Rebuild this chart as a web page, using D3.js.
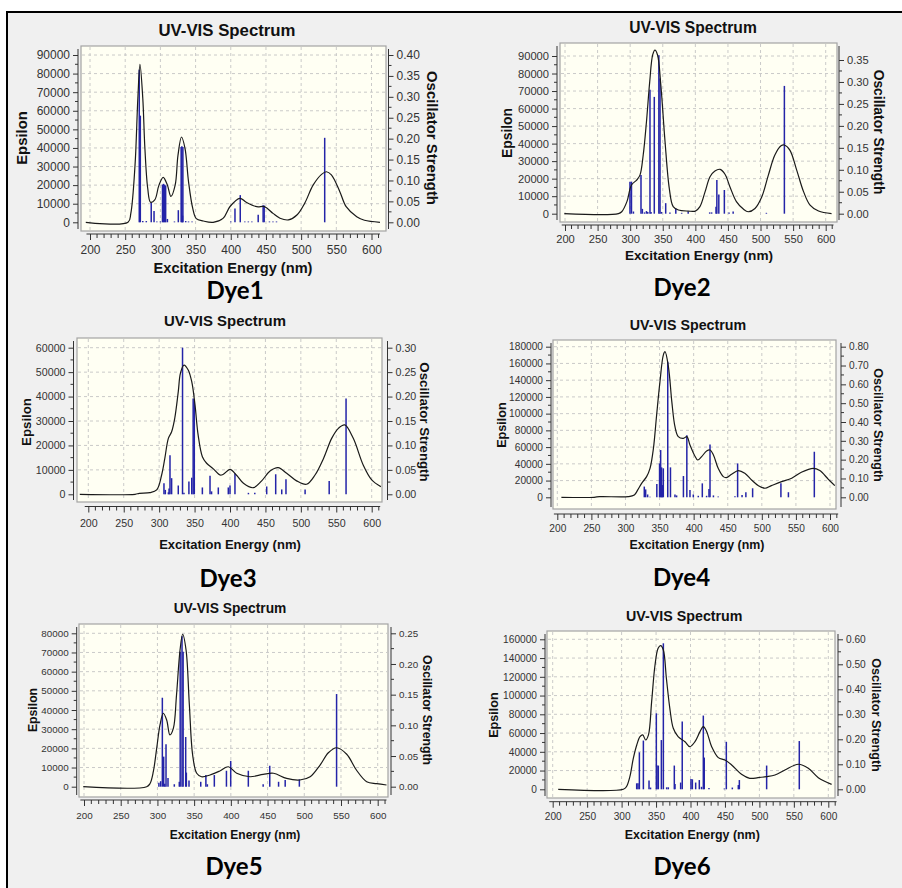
<!DOCTYPE html>
<html><head><meta charset="utf-8">
<script src="https://cdn.jsdelivr.net/npm/d3@7"></script>
<style>
html,body{margin:0;padding:0;background:#fff;}
svg{display:block;}
</style></head><body>
<svg id="c" width="902" height="888"></svg>
<script>
// ---------- DATA ----------
const dyeNames = ["Dye1","Dye2","Dye3","Dye4","Dye5","Dye6"];
const xTicks = [200,250,300,350,400,450,500,550,600];

const dye1Nm  = [194,254,258,264,268,271,275,278,282,286,292,298,304,310,315,321,325,330,335,340,346,351,361,375,389,399,413,422,437,448,460,470,482,494,505,517,529,536,543,555,564,579,590,612];
const dye1Eps = [0,0,4800,30800,66700,85000,66700,39800,18300,10800,12000,20000,24200,20000,13900,20000,36000,45900,39800,21900,7500,2000,700,0,2100,8500,12900,10800,8400,8400,4800,2200,1300,3900,10200,20000,25800,27200,25500,16500,8400,3000,1100,0];
const dye1BarNm = [270,271.5,275,280,287,291,295,300,303,304.5,306,307.5,310,320,325.5,329.5,330.5,331.5,332,336,340,345,400,406,413.5,420,425,430,439,446,447.5,455,460,465,533.5];
const dye1BarF  = [0.365,0.255,0.003,0.003,0.047,0.027,0.002,0.002,0.09,0.092,0.09,0.088,0.008,0.002,0.029,0.18,0.182,0.016,0.18,0.003,0.002,0.002,0.002,0.033,0.065,0.002,0.002,0.002,0.018,0.041,0.04,0.002,0.002,0.002,0.202];
const dye1EpsTicks = [0,10000,20000,30000,40000,50000,60000,70000,80000,90000];
const dye1FTicks = [0,0.05,0.10,0.15,0.20,0.25,0.30,0.35,0.40];

const dye2Nm  = [199,282,287,295,302,310,315,320,325,330,334.5,338,342,347,353.5,360,366,374,389,400,407,415,422.5,430,438,445.5,453,463,474,481,491.5,502,512,522,531.5,536.5,545,555.5,566,576,589,609];
const dye2Eps = [0,0,1100,6900,16400,19200,22000,33500,52500,75400,90600,93400,90600,73500,41100,14500,4000,2100,1500,1500,4000,12600,21100,24400,25300,22500,15400,6900,2500,1100,3000,9700,22000,33500,38800,39200,36300,24900,12600,4900,1500,0];
const dye2BarNm = [299.7,302,305,316.6,318.7,322,325,327,330.4,332,337,344,345.8,348,354.5,361,370,379,389,422,425,431.7,433,436,444.5,451.7,458,509,536.6];
const dye2BarF  = [0.073,0.073,0.005,0.088,0.011,0.003,0.006,0.004,0.282,0.004,0.266,0.361,0.308,0.004,0.024,0.003,0.012,0.002,0.005,0.003,0.003,0.016,0.077,0.044,0.054,0.003,0.005,0.002,0.291];
const dye2EpsTicks = [0,10000,20000,30000,40000,50000,60000,70000,80000,90000];
const dye2FTicks = [0,0.05,0.10,0.15,0.20,0.25,0.30,0.35];

const dye3Nm  = [188,266,272,287,296.5,303.5,308,313,317.6,322,327,330,335,341,346,350.6,355,361,367,376.5,386,390.6,400,409,419,433,444.7,456.5,468,480,494,508,520,532,543.5,553,562,574,588,600,613];
const dye3Eps = [0,0,400,700,1800,7900,14700,22900,25600,31100,42000,49500,52900,50900,46100,36600,24300,15400,12700,10400,7900,8200,10200,7900,4500,2700,5500,9500,10900,8600,5500,4100,7900,14700,22900,27000,28400,22900,12000,5900,3100];
const dye3BarNm = [306.8,308.7,313,314,315.3,317.6,327,333,335,342,346,348,349.6,361,371.8,374,383.5,397.6,400,407,426,435,451.8,464.5,473,479,506,540,563.8];
const dye3BarF  = [0.0225,0.009,0.004,0.012,0.080,0.033,0.018,0.300,0.003,0.026,0.034,0.196,0.19,0.014,0.038,0.006,0.014,0.014,0.018,0.043,0.003,0.003,0.016,0.041,0.010,0.031,0.010,0.027,0.196];
const dye3EpsTicks = [0,10000,20000,30000,40000,50000,60000];
const dye3FTicks = [0,0.05,0.10,0.15,0.20,0.25,0.30];

const dye4Nm  = [206,254,262,304,313,318,323.7,331,336,341,345.7,350.6,355.5,358,363,368,372.6,377.5,385,390,394.6,401,406,411.7,419,424,429,436,443.5,448,455.7,465.5,475,485,495,504.6,514,529,543.8,558,575.6,585,597.6,607];
const dye4Eps = [0,0,800,800,2800,8800,16700,24700,34600,58500,98400,138200,170000,174000,156000,114000,84400,72500,70500,72500,62500,50600,44600,48600,55300,56500,50600,34600,24700,23500,27500,31900,28700,20700,13900,10800,13900,18700,22700,29900,34600,31900,21500,13900];
const dye4BarNm = [327.6,329.6,332.5,336,346,350,351.6,353,354,355.5,362,366,372.6,375,385,390,394.6,399.5,406.8,412.7,419,422.5,424,429,436,460.6,464.5,471,476.6,486.5,528,539,577];
const dye4BarF  = [0.057,0.042,0.015,0.003,0.071,0.18,0.251,0.159,0.065,0.154,0.72,0.159,0.015,0.01,0.113,0.33,0.039,0.015,0.008,0.074,0.008,0.044,0.28,0.01,0.004,0.006,0.18,0.012,0.027,0.048,0.074,0.027,0.242];
const dye4EpsTicks = [0,20000,40000,60000,80000,100000,120000,140000,160000,180000];
const dye4FTicks = [0,0.10,0.20,0.30,0.40,0.50,0.60,0.70,0.80];

const dye5Nm  = [199,285.4,290,294.4,299,303.5,308,312.6,317,321.7,326,330.8,334.4,339,343.5,348,353.5,360,371.6,385,396.6,408,426,444,458,476,494,508,521.5,532.8,544,557.8,571,585,598.6,612];
const dye5Eps = [0,0,1700,7800,20000,32200,38300,34800,27000,30400,47800,71300,79500,71300,42600,16500,7000,5200,6100,8200,10400,7000,5200,6400,7000,4300,3500,5200,11300,17700,20300,16900,8700,2600,1600,900];
const dye5BarNm = [302,304.4,306.7,308.5,310,311.7,314.4,323,329.8,331,333.5,335,338.5,339.4,343,359,366,368,377.5,394,399.8,423.8,444,453,465,474,493.3,544];
const dye5BarF  = [0.0065,0.009,0.145,0.049,0.005,0.069,0.014,0.004,0.008,0.22,0.245,0.22,0.081,0.023,0.010,0.008,0.019,0.004,0.019,0.026,0.042,0.026,0.004,0.034,0.008,0.011,0.012,0.151];
const dye5EpsTicks = [0,10000,20000,30000,40000,50000,60000,70000,80000];
const dye5FTicks = [0,0.05,0.10,0.15,0.20,0.25];

const dye6Nm  = [208,302.5,307,312,317,322,326.7,330.6,335,339,343.6,348.5,353,356.7,360.6,365,370,375,382,392,399,406.5,413.8,418.6,423.5,430.7,440.4,450,459.7,474,486,498,510.5,522.6,537,556.5,571,585.5,604.8];
const dye6Eps = [0,0,2800,13500,33000,47300,56200,58000,52600,58000,93500,132600,150400,153300,148600,118400,86400,65100,56200,50800,45500,50800,61500,66800,61500,45500,33800,31300,26000,16000,11700,12400,13500,15300,20600,26700,22400,12400,5300];
const dye6BarNm = [321.9,323.8,325.8,331.6,339.8,342,350.4,351.4,353.3,357.7,360.6,365.4,367.8,376.5,377.5,385.7,388,400.7,402.7,407.5,412.8,416,418.6,420,426.8,449,452,460.7,469.4,470.9,510.5,557.9];
const dye6BarF  = [0.024,0.024,0.148,0.195,0.035,0.007,0.304,0.095,0.095,0.197,0.584,0.008,0.008,0.095,0.021,0.027,0.271,0.041,0.04,0.027,0.037,0.01,0.295,0.127,0.005,0.003,0.19,0.007,0.017,0.037,0.095,0.193];
const dye6EpsTicks = [0,20000,40000,60000,80000,100000,120000,140000,160000];
const dye6FTicks = [0,0.10,0.20,0.30,0.40,0.50,0.60];

// ---------- LAYOUT (pixels) ----------
const layout = [
 {L:81,R:386,T:46,B:231, x200:90,x600:371.5, y0:222.3,eTop:55,fTop:55, axL:78,axR:388.5,axB:234, xlabY:250, xt:[233,267.5], tt:[227,30], ep:[22,138], os:[432,138], dye:[235,291], fs:14.6},
 {L:560,R:837,T:43,B:222, x200:565,x600:825.7, y0:213.7,eTop:56,fTop:60, axL:557,axR:839,axB:225, xlabY:239, xt:[699,255], tt:[693,28], ep:[507,133], os:[879,132], dye:[682,288], fs:13.6},
 {L:77,R:382,T:338,B:502, x200:88.3,x600:371.7, y0:494.3,eTop:347.7,fTop:347.7, axL:73.5,axR:387.5,axB:506.5, xlabY:523, xt:[230,544.5], tt:[225,321], ep:[26,422], os:[425,422], dye:[228,579], fs:13.0},
 {L:553,R:836,T:340,B:509, x200:557.3,x600:830, y0:497.3,eTop:346.7,fTop:346.7, axL:551,axR:841,axB:514, xlabY:528.3, xt:[697,545], tt:[688,325.5], ep:[502,425], os:[878,425], dye:[681.5,578], fs:12.4},
 {L:79,R:388,T:624,B:797, x200:84,x600:377.7, y0:786.7,eTop:633.3,fTop:633.3, axL:76.7,axR:391,axB:800, xlabY:816, xt:[235,834.3], tt:[230,608.3], ep:[33,710], os:[427,710], dye:[234,867], fs:12.0},
 {L:547,R:835,T:631,B:798, x200:552.7,x600:828.3, y0:789.3,eTop:639.3,fTop:639.3, axL:545,axR:838,axB:801.7, xlabY:816, xt:[692.3,835], tt:[684.3,616.5], ep:[494,715], os:[876,715], dye:[682,867], fs:12.4}
];

const series = [
 [dye1Nm,dye1Eps,dye1BarNm,dye1BarF,dye1EpsTicks,dye1FTicks],
 [dye2Nm,dye2Eps,dye2BarNm,dye2BarF,dye2EpsTicks,dye2FTicks],
 [dye3Nm,dye3Eps,dye3BarNm,dye3BarF,dye3EpsTicks,dye3FTicks],
 [dye4Nm,dye4Eps,dye4BarNm,dye4BarF,dye4EpsTicks,dye4FTicks],
 [dye5Nm,dye5Eps,dye5BarNm,dye5BarF,dye5EpsTicks,dye5FTicks],
 [dye6Nm,dye6Eps,dye6BarNm,dye6BarF,dye6EpsTicks,dye6FTicks]
];

// ---------- DRAW ----------
const svg = d3.select("#c");
const FONT = "'Liberation Sans', Arial, sans-serif";
svg.append("rect").attr("width",902).attr("height",888).attr("fill","#ffffff");
svg.append("rect").attr("x",7).attr("y",12).attr("width",895).attr("height",876).attr("fill","#f0f0f0");
svg.append("line").attr("x1",6).attr("x2",902).attr("y1",12).attr("y2",12).attr("stroke","#000").attr("stroke-width",2);
svg.append("line").attr("x1",7).attr("x2",7).attr("y1",11).attr("y2",888).attr("stroke","#000").attr("stroke-width",2);

series.forEach((s,i)=>{
  const [nm,eps,bnm,bf,eT,fT] = s;
  const p = layout[i];
  const g = svg.append("g");
  const x = d3.scaleLinear().domain([200,600]).range([p.x200,p.x600]);
  const yE = d3.scaleLinear().domain([0,eT[eT.length-1]]).range([p.y0,p.eTop]);
  const yF = d3.scaleLinear().domain([0,fT[fT.length-1]]).range([p.y0,p.fTop]);
  const tickFs = p.fs*0.82;

  g.append("rect").attr("x",p.L).attr("y",p.T).attr("width",p.R-p.L).attr("height",p.B-p.T)
    .attr("fill","#fffff3").attr("stroke","#a4a4a4").attr("stroke-width",1.2);

  const clipId = "clip"+i;
  g.append("clipPath").attr("id",clipId).append("rect")
    .attr("x",p.L+1).attr("y",p.T+1).attr("width",p.R-p.L-2).attr("height",p.B-p.T-2);

  const grid = g.append("g").attr("stroke","#c4c4c4").attr("stroke-width",0.9).attr("stroke-dasharray","3,3");
  grid.selectAll(".vg").data(xTicks).join("line")
    .attr("x1",d=>x(d)).attr("x2",d=>x(d)).attr("y1",p.T+1).attr("y2",p.B-1);
  grid.selectAll(".hg").data(eT.slice(1)).join("line")
    .attr("x1",p.L+1).attr("x2",p.R-1).attr("y1",d=>yE(d)).attr("y2",d=>yE(d));

  const plot = g.append("g").attr("clip-path",`url(#${clipId})`);
  plot.selectAll(".bar").data(d3.zip(bnm,bf)).join("line")
    .attr("x1",d=>x(d[0])).attr("x2",d=>x(d[0]))
    .attr("y1",yF(0)).attr("y2",d=>yF(d[1]))
    .attr("stroke","#2424a8").attr("stroke-width",1.5);
  const line = d3.line().x(d=>x(d[0])).y(d=>yE(d[1])).curve(d3.curveCatmullRom.alpha(0.5));
  plot.append("path").datum(d3.zip(nm,eps)).attr("d",line)
    .attr("fill","none").attr("stroke","#1a1a1a").attr("stroke-width",1.2);

  const styleAxis = sel=>{
    sel.selectAll(".tick line").attr("stroke","#333");
    sel.selectAll(".tick text").attr("fill","#333").style("font-family",FONT).style("font-size",tickFs+"px");
    sel.select(".domain").remove();
  };

  const la = g.append("g").attr("transform",`translate(${p.axL},0)`)
    .call(d3.axisLeft(yE).tickValues(eT).tickSize(5).tickPadding(3).tickFormat(d3.format("d")));
  styleAxis(la);
  const eStep = eT[1]-eT[0];
  la.append("g").selectAll("line").data(eT.slice(0,-1).map(v=>v+eStep/2)).join("line")
    .attr("x1",0).attr("x2",-3).attr("y1",d=>yE(d)).attr("y2",d=>yE(d)).attr("stroke","#333");
  la.append("line").attr("x1",0).attr("x2",0).attr("y1",p.T+3).attr("y2",p.B-2).attr("stroke","#333");

  const ra = g.append("g").attr("transform",`translate(${p.axR},0)`)
    .call(d3.axisRight(yF).tickValues(fT).tickSize(5).tickPadding(3).tickFormat(d3.format(".2f")));
  styleAxis(ra);
  const fStep = fT[1]-fT[0];
  ra.append("g").selectAll("line").data(fT.slice(0,-1).map(v=>v+fStep/2)).join("line")
    .attr("x1",0).attr("x2",3).attr("y1",d=>yF(d)).attr("y2",d=>yF(d)).attr("stroke","#333");
  ra.append("line").attr("x1",0).attr("x2",0).attr("y1",p.T+3).attr("y2",p.B-2).attr("stroke","#333");

  const ba = g.append("g").attr("transform",`translate(0,${p.axB})`)
    .call(d3.axisBottom(x).tickValues(xTicks).tickSize(6));
  styleAxis(ba);
  ba.selectAll(".tick text").attr("y",p.xlabY-p.axB).attr("dy","0.35em");
  const minor = d3.range(210,611,10).filter(v=>v%50!==0);
  ba.append("g").selectAll("line").data(minor).join("line")
    .attr("x1",d=>x(d)).attr("x2",d=>x(d)).attr("y1",0).attr("y2",4).attr("stroke","#333");
  ba.append("line").attr("x1",x(195)).attr("x2",x(612)).attr("y1",0).attr("y2",0).attr("stroke","#333");

  g.append("text").attr("x",p.tt[0]).attr("y",p.tt[1]).attr("dy","0.35em").attr("text-anchor","middle")
    .style("font-family",FONT).style("font-weight","bold").style("font-size",(p.fs*1.15)+"px").attr("fill","#111")
    .text("UV-VIS Spectrum");
  g.append("text").attr("x",p.xt[0]).attr("y",p.xt[1]).attr("dy","0.35em").attr("text-anchor","middle")
    .style("font-family",FONT).style("font-weight","bold").style("font-size",p.fs+"px").attr("fill","#111")
    .text("Excitation Energy (nm)");
  g.append("text").attr("transform",`translate(${p.ep[0]},${p.ep[1]}) rotate(-90)`).attr("dy","0.35em").attr("text-anchor","middle")
    .style("font-family",FONT).style("font-weight","bold").style("font-size",(p.fs*1.02)+"px").attr("fill","#111")
    .text("Epsilon");
  g.append("text").attr("transform",`translate(${p.os[0]},${p.os[1]}) rotate(90)`).attr("dy","0.35em").attr("text-anchor","middle")
    .style("font-family",FONT).style("font-weight","bold").style("font-size",(p.fs*1.02)+"px").attr("fill","#111")
    .text("Oscillator Strength");
  g.append("text").attr("x",p.dye[0]).attr("y",p.dye[1]).attr("dy","0.35em").attr("text-anchor","middle")
    .style("font-family","Lato, 'Open Sans', sans-serif").style("font-weight","bold").style("font-size","24px").attr("fill","#000")
    .text(dyeNames[i]);
});
</script>
</body></html>
